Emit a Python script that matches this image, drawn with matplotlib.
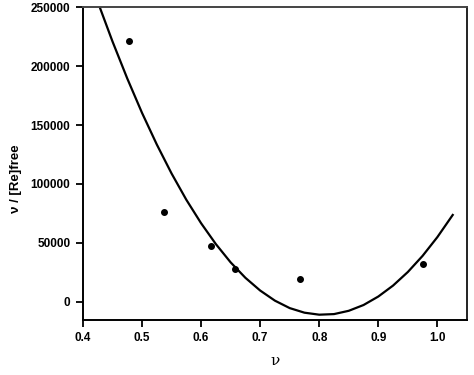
import matplotlib
matplotlib.use("Agg")
import matplotlib.pyplot as plt

# measured points
nu = [0.478, 0.537, 0.617, 0.658, 0.767, 0.975]
nu_re = [221500, 76000, 47700, 27700, 19500, 31900]

# fitted curve
curve_x = [0.428, 0.450, 0.475, 0.500, 0.525, 0.550, 0.575, 0.600, 0.625,
           0.650, 0.675, 0.700, 0.725, 0.750, 0.775, 0.800, 0.825, 0.850,
           0.875, 0.900, 0.925, 0.950, 0.975, 1.000, 1.026]
curve_y = [250500, 220900, 189500, 160300, 133500, 108900, 86600, 66700, 49000,
           33500, 20400, 9600, 1000, -5300, -9200, -10900, -10400, -7600,
           -2700, 4500, 13800, 25300, 39000, 54900, 73700]

xticks = [0.4, 0.5, 0.6, 0.7, 0.8, 0.9, 1.0]
yticks = [0, 50000, 100000, 150000, 200000, 250000]

plt.rcParams['font.family'] = ['Liberation Sans', 'DejaVu Sans']

fig = plt.figure(figsize=(4.74, 3.75), dpi=100)
ax = fig.add_axes([0.175, 0.147, 0.81, 0.834])

ax.plot(curve_x, curve_y, color='black', linewidth=1.6)
ax.plot(nu, nu_re, 'o', color='black', markersize=4)

ax.set_xlim(0.4, 1.05)
ax.set_ylim(-15300, 250000)
ax.set_xticks(xticks)
ax.set_xticklabels([f"{t:.1f}" for t in xticks])
ax.set_yticks(yticks)
ax.set_yticklabels([str(t) for t in yticks])

ax.tick_params(direction='out', length=5, width=1.3, labelsize=8.5, pad=4)
for lab in ax.get_xticklabels() + ax.get_yticklabels():
    lab.set_fontweight('bold')
for s in ax.spines.values():
    s.set_linewidth(1.4)
ax.spines['top'].set_color('#444444')
ax.spines['right'].set_color('#222222')

ax.set_xlabel('ν', fontsize=11, family=['DejaVu Serif'])
ax.xaxis.set_label_coords(0.5, -0.11)
ax.set_ylabel('ν / [Re]free', fontsize=9.5, fontweight='bold')
ax.yaxis.set_label_coords(-0.16, 0.45)

fig.savefig('out.png', dpi=100)
